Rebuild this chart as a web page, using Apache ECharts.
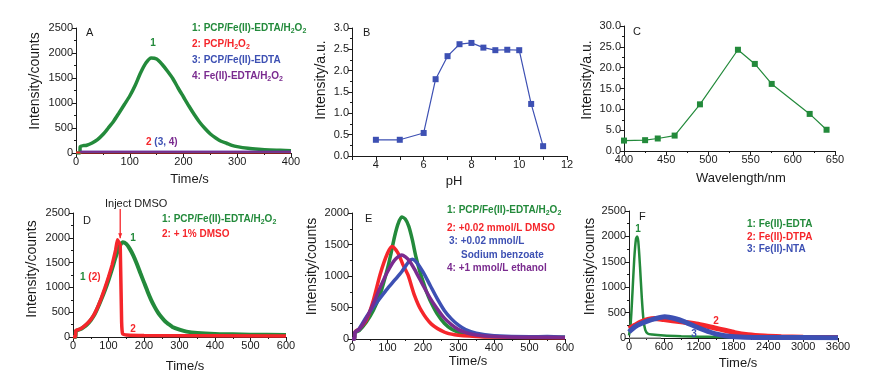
<!DOCTYPE html>
<html>
<head>
<meta charset="utf-8">
<script src="https://cdn.jsdelivr.net/npm/echarts@6/dist/echarts.min.js"></script>
<style>
  html, body { margin: 0; background: #fff; }
  #chart { width: 891px; height: 374px; }
</style>
</head>
<body>
<div id="chart"></div>
<script>
// ---- data ----
// A: chemiluminescence kinetics, time (s) vs counts
const aPcpFeEdtaH2o2 = [[0, 0], [7, 0], [8, 130], [15, 150], [20, 155], [30, 200], [40, 268], [50, 370], [60, 500], [70, 636], [80, 800], [90, 970], [100, 1140], [110, 1350], [120, 1600], [130, 1800], [140, 1900], [150, 1880], [160, 1775], [170, 1640], [180, 1490], [190, 1300], [200, 1120], [210, 940], [220, 770], [230, 616], [240, 490], [250, 380], [260, 300], [270, 235], [280, 195], [290, 154], [300, 127], [320, 94], [340, 74], [360, 60], [380, 54], [400, 47]]
const aPcpH2o2 = [[0, 8], [400, 8]]
const aPcpFeEdta = [[8, 24], [400, 24]]
const aFeEdtaH2o2 = [[8, 30], [400, 30]]

// B: intensity vs pH
const phValues = [4, 5, 6, 6.5, 7, 7.5, 8, 8.5, 9, 9.5, 10, 10.5, 11]
const phIntensity = [0.38, 0.38, 0.54, 1.80, 2.34, 2.62, 2.65, 2.54, 2.48, 2.49, 2.48, 1.22, 0.23]

// C: intensity vs emission wavelength
const wavelengths = [400, 425, 440, 460, 490, 535, 555, 575, 620, 640]
const wlIntensity = [2.5, 2.6, 3.0, 3.7, 11.2, 24.3, 20.9, 16.1, 8.9, 5.1]

// D: DMSO injected at ~133 s
const dControl = [[0, 0], [7, 0], [8, 120], [20, 155], [30, 200], [40, 257], [50, 338], [60, 446], [70, 595], [80, 764], [90, 946], [100, 1149], [110, 1372], [120, 1608], [130, 1810], [140, 1912], [150, 1878], [160, 1777], [170, 1642], [180, 1473], [190, 1284], [200, 1101], [210, 919], [220, 750], [230, 608], [240, 486], [250, 392], [260, 311], [270, 257], [280, 203], [300, 149], [320, 108], [350, 81], [400, 61], [450, 54], [500, 47], [600, 40]]
const dDmso = [[0, 0], [7, 0], [8, 130], [20, 160], [30, 210], [40, 270], [50, 350], [60, 460], [70, 610], [80, 790], [90, 990], [100, 1210], [110, 1450], [120, 1750], [125, 1960], [130, 1900], [133, 1850], [137, 300], [140, 60], [150, 40], [200, 30], [600, 20]]
const injectTime = 133

// E: scavengers
const eControl = [[0, 0], [7, 0], [8, 100], [20, 133], [40, 267], [60, 453], [80, 720], [100, 1120], [110, 1360], [120, 1627], [130, 1830], [140, 1936], [150, 1904], [160, 1787], [170, 1573], [180, 1307], [190, 1093], [200, 917], [210, 747], [220, 613], [240, 400], [260, 251], [280, 160], [300, 107], [320, 69], [350, 48], [400, 37], [500, 32], [600, 27]]
const eDmso = [[0, 0], [7, 0], [8, 110], [20, 160], [40, 293], [60, 613], [80, 1040], [100, 1360], [113, 1467], [130, 1360], [144, 1173], [158, 1013], [176, 693], [195, 453], [223, 240], [261, 107], [289, 69], [350, 40], [400, 30], [600, 20]]
const eBenzoate = [[0, 0], [7, 0], [8, 100], [20, 160], [40, 347], [60, 507], [80, 656], [100, 800], [120, 933], [140, 1067], [160, 1227], [170, 1264], [180, 1227], [200, 1067], [220, 853], [240, 640], [260, 453], [280, 320], [300, 219], [320, 149], [350, 91], [400, 53], [500, 35], [550, 40], [600, 28]]
const eEthanol = [[0, 0], [7, 0], [8, 100], [20, 150], [40, 320], [60, 560], [80, 827], [100, 1067], [120, 1253], [140, 1333], [160, 1253], [180, 1067], [200, 853], [220, 650], [240, 480], [260, 331], [280, 229], [300, 149], [320, 101], [350, 64], [400, 40], [500, 28], [600, 25]]

// F: different chelators
const fEdta = [[0, 50], [30, 300], [60, 900], [90, 1550], [120, 1950], [140, 2000], [160, 1900], [190, 1400], [220, 800], [250, 350], [280, 160], [320, 90], [400, 70], [600, 50], [900, 35], [1200, 25], [1500, 20], [1800, 15], [1900, 5]]
const fDtpa = [[0, 185], [100, 250], [212, 317], [327, 364], [442, 383], [557, 370], [600, 364], [900, 317], [1190, 271], [1475, 198], [1650, 152], [1820, 106], [2050, 66], [2336, 40], [2623, 26], [3000, 15], [3600, 8]]
const fNta = [[0, 119], [100, 218], [212, 284], [327, 337], [442, 377], [614, 416], [786, 383], [959, 317], [1131, 231], [1303, 152], [1475, 86], [1648, 46], [1820, 26], [2000, 15], [2400, 10], [3600, 5]]
const fBaseline = [[0, 0], [550, 0]]

// ---- styling ----
const FONT = "'Liberation Sans', Arial, Helvetica, sans-serif"
const GREEN = '#238a3b'
const RED = '#f5262b'
const BLUE = '#3d50b3'
const PURPLE = '#7a2b8f'
const INK = '#1a1a1a'

function makeAxis (gridIndex, o) {
  return {
    type: 'value',
    gridIndex,
    min: o.min,
    max: o.max,
    interval: o.interval,
    name: o.name,
    nameLocation: 'middle',
    nameGap: o.gap,
    nameTextStyle: { fontFamily: FONT, fontSize: o.nameSize || 13, color: INK, padding: o.pad || 0 },
    axisLine: { show: true, onZero: false, lineStyle: { color: INK, width: 1 } },
    axisTick: { show: true, length: 4, lineStyle: { color: INK } },
    minorTick: { show: o.minor !== false, splitNumber: 2, length: 2, lineStyle: { color: INK } },
    splitLine: { show: false },
    axisLabel: {
      fontFamily: FONT,
      fontSize: 11,
      color: INK,
      margin: 3,
      hideOverlap: false,
      // plain numbers, no thousands separator
      formatter: o.fmt || (v => String(v))
    }
  }
}

function curve (idx, data, color, width, z) {
  return {
    type: 'line',
    xAxisIndex: idx,
    yAxisIndex: idx,
    data,
    symbol: 'none',
    smooth: 0.25,
    z: z || 2,
    lineStyle: { color, width }
  }
}

function dots (idx, xs, ys, color) {
  return {
    type: 'line',
    xAxisIndex: idx,
    yAxisIndex: idx,
    data: xs.map((x, i) => [x, ys[i]]),
    symbol: 'rect',
    symbolSize: 6,
    itemStyle: { color },
    lineStyle: { color, width: 1.2 }
  }
}

// legend-like coloured labels, with H2O2 subscripts through rich text
function label (x, y, parts, opts = {}) {
  const rich = {}
  let text = ''
  parts.forEach((p, i) => {
    const key = 't' + i
    const size = opts.size || 10
    rich[key] = {
      fill: p.c,
      color: p.c,
      fontFamily: FONT,
      fontWeight: opts.normal ? 'normal' : 'bold',
      fontSize: p.sub ? size - 3 : size,
      lineHeight: p.sub ? 8 : 14,
      verticalAlign: p.sub ? 'bottom' : 'middle'
    }
    text += '{' + key + '|' + p.t + '}'
  })
  return {
    type: 'text',
    x,
    y,
    z: 10,
    style: { text, rich, align: opts.align || 'left', verticalAlign: 'middle' }
  }
}

function h2o2 (prefix, c) {
  return [{ t: prefix + 'H', c }, { t: '2', c, sub: true }, { t: 'O', c }, { t: '2', c, sub: true }]
}

const grids = [
  { left: 76, top: 28, width: 215, height: 125 },
  { left: 352, top: 28, width: 215, height: 128 },
  { left: 624, top: 26, width: 211, height: 125 },
  { left: 73, top: 213, width: 213, height: 124 },
  { left: 352, top: 213, width: 213, height: 126 },
  { left: 629, top: 211, width: 209, height: 127 }
]

const xAxes = [
  makeAxis(0, { min: 0, max: 400, interval: 100, name: 'Time/s', gap: 20, pad: [0, 0, 0, 12] }),
  makeAxis(1, { min: 3, max: 12, interval: 1, name: 'pH', gap: 19, pad: [0, 11, 0, 0], minor: false, fmt: v => (v % 2 === 0 ? String(v) : '') }),
  makeAxis(2, { min: 400, max: 650, interval: 50, name: 'Wavelength/nm', gap: 21, pad: [0, 0, 0, 23] }),
  makeAxis(3, { min: 0, max: 600, interval: 100, name: 'Time/s', gap: 23, pad: [0, 0, 0, 11] }),
  makeAxis(4, { min: 0, max: 600, interval: 100, name: 'Time/s', gap: 16, pad: [0, 0, 0, 19] }),
  makeAxis(5, { min: 0, max: 3600, interval: 600, name: 'Time/s', gap: 19, pad: [0, 0, 0, 9] })
]

const yAxes = [
  makeAxis(0, { min: 0, max: 2500, interval: 500, name: 'Intensity/counts', nameSize: 14, gap: 34, pad: [0, 0, 0, 19] }),
  makeAxis(1, { min: 0, max: 3, interval: 0.5, name: 'Intensity/a.u.', nameSize: 14, gap: 24, pad: [0, 0, 0, 24], fmt: v => v.toFixed(1) }),
  makeAxis(2, { min: 0, max: 30, interval: 5, name: 'Intensity/a.u.', nameSize: 14, gap: 30, pad: [0, 0, 0, 17], fmt: v => v.toFixed(1) }),
  makeAxis(3, { min: 0, max: 2500, interval: 500, name: 'Intensity/counts', nameSize: 14, gap: 34, pad: [0, 0, 0, 12] }),
  makeAxis(4, { min: 0, max: 2000, interval: 500, name: 'Intensity/counts', nameSize: 14, gap: 33, pad: [0, 0, 0, 19] }),
  makeAxis(5, { min: 0, max: 2500, interval: 500, name: 'Intensity/counts', nameSize: 14, gap: 32, pad: [0, 0, 0, 16] })
]

const series = [
  curve(0, aPcpFeEdtaH2o2, GREEN, 3.5),
  curve(0, aPcpH2o2, RED, 2),
  curve(0, aPcpFeEdta, BLUE, 2),
  curve(0, aFeEdtaH2o2, PURPLE, 1.5),
  dots(1, phValues, phIntensity, BLUE),
  dots(2, wavelengths, wlIntensity, GREEN),
  curve(3, dControl, GREEN, 4),
  Object.assign(curve(3, dDmso, RED, 3.5, 3), { smooth: 0.1 }),
  curve(4, eControl, GREEN, 3.5),
  curve(4, eDmso, RED, 3.5),
  curve(4, eBenzoate, BLUE, 3.5),
  curve(4, eEthanol, PURPLE, 3.5),
  curve(5, fBaseline, '#9a9a9a', 1.5),
  curve(5, fEdta, GREEN, 2.5),
  curve(5, fDtpa, RED, 5),
  curve(5, fNta, BLUE, 5)
]

const chart = echarts.init(document.getElementById('chart'), null, { renderer: 'canvas' })
chart.setOption({
  animation: false,
  backgroundColor: '#fff',
  grid: grids,
  xAxis: xAxes,
  yAxis: yAxes,
  series
})

// injection marker in D, placed through the panel's own scales
const injTop = chart.convertToPixel({ gridIndex: 3 }, [injectTime, 2580])
const injEnd = chart.convertToPixel({ gridIndex: 3 }, [injectTime, 1990])

const graphics = [
  // panel letters
  label(86, 33, [{ t: 'A', c: INK }], { normal: true, size: 11 }),
  label(363, 33, [{ t: 'B', c: INK }], { normal: true, size: 11 }),
  label(633, 32, [{ t: 'C', c: INK }], { normal: true, size: 11 }),
  label(83, 221, [{ t: 'D', c: INK }], { normal: true, size: 11 }),
  label(365, 219, [{ t: 'E', c: INK }], { normal: true, size: 11 }),
  label(639, 217, [{ t: 'F', c: INK }], { normal: true, size: 11 }),

  // A
  label(192, 28, h2o2('1: PCP/Fe(II)-EDTA/', GREEN)),
  label(192, 44, [{ t: '2: PCP/H', c: RED }, { t: '2', c: RED, sub: true }, { t: 'O', c: RED }, { t: '2', c: RED, sub: true }]),
  label(192, 60, [{ t: '3: PCP/Fe(II)-EDTA', c: BLUE }]),
  label(192, 76, h2o2('4: Fe(II)-EDTA/', PURPLE)),
  label(153, 43, [{ t: '1', c: GREEN }], { align: 'center' }),
  label(146, 142, [{ t: '2 ', c: RED }, { t: '(3, ', c: BLUE }, { t: '4)', c: PURPLE }]),

  // D
  label(162, 219, h2o2('1: PCP/Fe(II)-EDTA/', GREEN)),
  label(162, 234, [{ t: '2: + 1% DMSO', c: RED }]),
  label(133, 238, [{ t: '1', c: GREEN }], { align: 'center' }),
  label(80, 277, [{ t: '1 ', c: GREEN }, { t: '(2)', c: RED }]),
  label(133, 329, [{ t: '2', c: RED }], { align: 'center' }),
  label(105, 204, [{ t: 'Inject DMSO', c: INK }], { normal: true, size: 11 }),
  {
    type: 'line',
    z: 9,
    shape: { x1: injTop[0], y1: injTop[1], x2: injEnd[0], y2: injEnd[1] },
    style: { stroke: RED, lineWidth: 1.3 }
  },
  {
    type: 'polygon',
    z: 9,
    shape: { points: [[injEnd[0] - 2, injEnd[1] - 5], [injEnd[0] + 2, injEnd[1] - 5], [injEnd[0], injEnd[1]]] },
    style: { fill: RED }
  },

  // E
  label(447, 210, h2o2('1: PCP/Fe(II)-EDTA/', GREEN)),
  label(447, 228, [{ t: '2: +0.02 mmol/L DMSO', c: RED }]),
  label(449, 241, [{ t: '3: +0.02 mmol/L', c: BLUE }]),
  label(461, 255, [{ t: 'Sodium benzoate', c: BLUE }]),
  label(447, 268, [{ t: '4: +1 mmol/L ethanol', c: PURPLE }]),

  // F
  label(747, 224, [{ t: '1: Fe(II)-EDTA', c: GREEN }]),
  label(747, 237, [{ t: '2: Fe(II)-DTPA', c: RED }]),
  label(747, 249, [{ t: '3: Fe(II)-NTA', c: BLUE }]),
  label(638, 229, [{ t: '1', c: GREEN }], { align: 'center' }),
  label(716, 321, [{ t: '2', c: RED }], { align: 'center' }),
  label(694, 334, [{ t: '3', c: BLUE }], { align: 'center' })
]

chart.setOption({ graphic: graphics })
</script>
</body>
</html>
